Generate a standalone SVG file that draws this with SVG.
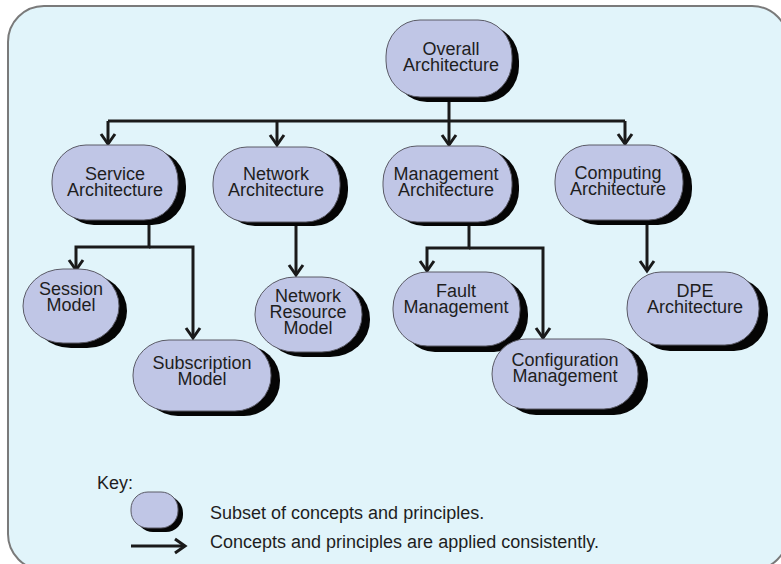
<svg xmlns="http://www.w3.org/2000/svg" width="781" height="564" viewBox="0 0 781 564">
  <style>
    .frame { fill: #e1f4fa; stroke: #7a7a7a; stroke-width: 2; }
    .shadow { fill: #050505; }
    .node { fill: #c0c6e6; stroke: #5a5a66; stroke-width: 1; }
    .label { font-family: "Liberation Sans", Arial, sans-serif; font-size: 18px; fill: #1e1e1e; text-anchor: middle; }
    .key { font-family: "Liberation Sans", Arial, sans-serif; font-size: 18px; fill: #1e1e1e; }
    .wire { fill: none; stroke: #1a1a1a; stroke-width: 3; }
  </style>
  <defs>
    <marker id="arrow" markerUnits="userSpaceOnUse" markerWidth="24" markerHeight="24" viewBox="-12 -12 24 24" refX="0" refY="0" orient="auto">
      <path d="M-10,-7 L0,0 L-10,7" fill="none" stroke="#1a1a1a" stroke-width="3" stroke-linejoin="miter"/>
    </marker>
  </defs>

  <!-- panel -->
  <rect class="frame" x="8" y="6" width="780" height="564" rx="36" ry="36"/>

  <!-- connectors -->
  <g id="connectors">
    <path class="wire" d="M449,97 V121"/>
    <path class="wire" d="M108,121 H625"/>
    <path class="wire" d="M108,121 V144" marker-end="url(#arrow)"/>
    <path class="wire" d="M277,121 V145" marker-end="url(#arrow)"/>
    <path class="wire" d="M449,121 V145" marker-end="url(#arrow)"/>
    <path class="wire" d="M625,121 V144" marker-end="url(#arrow)"/>

    <path class="wire" d="M149,220 V247 H76 V270" marker-end="url(#arrow)"/>
    <path class="wire" d="M149,247 H193 V338" marker-end="url(#arrow)"/>

    <path class="wire" d="M296,222 V275" marker-end="url(#arrow)"/>

    <path class="wire" d="M469,222 V248 H427 V271" marker-end="url(#arrow)"/>
    <path class="wire" d="M469,248 H543 V338" marker-end="url(#arrow)"/>

    <path class="wire" d="M647,220 V271" marker-end="url(#arrow)"/>
  </g>

  <!-- nodes: multi-line labels are single text elements with stacked tspans -->
  <g id="overall">
    <rect class="shadow" x="393" y="25" width="126" height="77" rx="34" ry="36"/>
    <rect class="node" x="386" y="20" width="126" height="77" rx="34" ry="36"/>
    <text class="label" x="451" y="55">Overall<tspan x="451" dy="16">Architecture</tspan></text>
  </g>

  <g id="service">
    <rect class="shadow" x="60" y="150" width="126" height="75" rx="34" ry="36"/>
    <rect class="node" x="52" y="145" width="126" height="75" rx="34" ry="36"/>
    <text class="label" x="115" y="180">Service<tspan x="115" dy="16">Architecture</tspan></text>
  </g>

  <g id="network">
    <rect class="shadow" x="221" y="151" width="127" height="75" rx="34" ry="36"/>
    <rect class="node" x="213" y="147" width="127" height="75" rx="34" ry="36"/>
    <text class="label" x="276" y="180">Network<tspan x="276" dy="16">Architecture</tspan></text>
  </g>

  <g id="management">
    <rect class="shadow" x="390" y="150" width="129" height="76" rx="34" ry="36"/>
    <rect class="node" x="383" y="146" width="129" height="76" rx="34" ry="36"/>
    <text class="label" x="446" y="180">Management<tspan x="446" dy="16">Architecture</tspan></text>
  </g>

  <g id="computing">
    <rect class="shadow" x="564" y="150" width="128" height="75" rx="34" ry="36"/>
    <rect class="node" x="555" y="145" width="128" height="75" rx="34" ry="36"/>
    <text class="label" x="618" y="179">Computing<tspan x="618" dy="16">Architecture</tspan></text>
  </g>

  <g id="session">
    <rect class="shadow" x="31" y="274" width="96" height="74" rx="40" ry="37"/>
    <rect class="node" x="23" y="269" width="96" height="74" rx="40" ry="37"/>
    <text class="label" x="71" y="295">Session<tspan x="71" dy="16">Model</tspan></text>
  </g>

  <g id="subscription">
    <rect class="shadow" x="142" y="345" width="138" height="71" rx="36" ry="35"/>
    <rect class="node" x="133" y="340" width="138" height="71" rx="36" ry="35"/>
    <text class="label" x="202" y="369">Subscription<tspan x="202" dy="16">Model</tspan></text>
  </g>

  <g id="resource">
    <rect class="shadow" x="263" y="282" width="107" height="75" rx="40" ry="37"/>
    <rect class="node" x="255" y="277" width="107" height="75" rx="40" ry="37"/>
    <text class="label" x="308" y="302">Network<tspan x="308" dy="16">Resource</tspan><tspan x="308" dy="16">Model</tspan></text>
  </g>

  <g id="fault">
    <rect class="shadow" x="401" y="278" width="127" height="74" rx="34" ry="36"/>
    <rect class="node" x="393" y="272" width="127" height="74" rx="34" ry="36"/>
    <text class="label" x="456" y="297">Fault<tspan x="456" dy="16">Management</tspan></text>
  </g>

  <g id="configuration">
    <rect class="shadow" x="502" y="345" width="146" height="70" rx="34" ry="35"/>
    <rect class="node" x="492" y="339" width="146" height="70" rx="34" ry="35"/>
    <text class="label" x="565" y="366">Configuration<tspan x="565" dy="16">Management</tspan></text>
  </g>

  <g id="dpe">
    <rect class="shadow" x="636" y="278" width="132" height="73" rx="34" ry="36"/>
    <rect class="node" x="627" y="272" width="132" height="73" rx="34" ry="36"/>
    <text class="label" x="695" y="297">DPE<tspan x="695" dy="16">Architecture</tspan></text>
  </g>

  <!-- legend -->
  <g id="legend">
    <text class="key" x="97" y="489">Key:</text>
    <rect class="shadow" x="136" y="496" width="47" height="36" rx="17" ry="17"/>
    <rect class="node" x="131" y="492" width="47" height="36" rx="17" ry="17"/>
    <text class="key" x="210" y="519">Subset of concepts and principles.</text>
    <path class="wire" d="M131,546 H185" marker-end="url(#arrow)"/>
    <text class="key" x="210" y="548">Concepts and principles are applied consistently.</text>
  </g>
</svg>
